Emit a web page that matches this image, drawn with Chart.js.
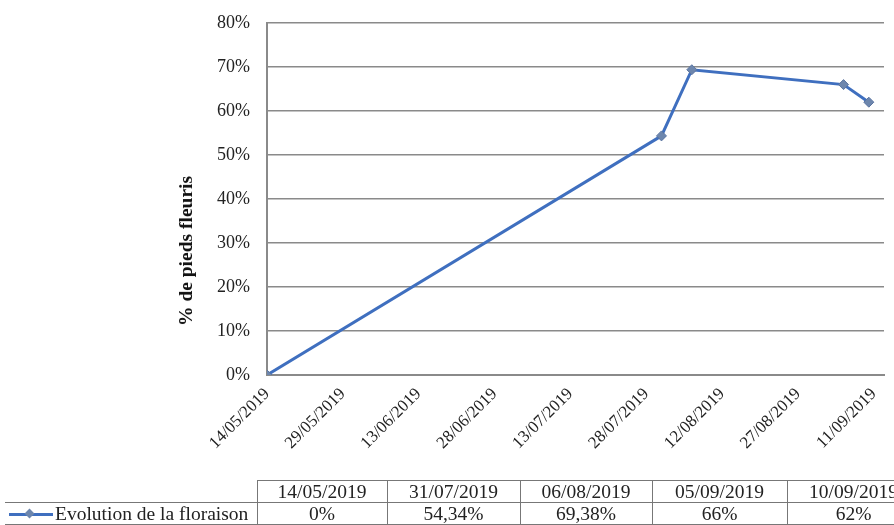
<!DOCTYPE html>
<html>
<head>
<meta charset="utf-8">
<script src="https://cdn.jsdelivr.net/npm/chart.js@4.4.1/dist/chart.umd.min.js"></script>
<style>
  html, body { margin: 0; padding: 0; background: #fff; }
  #wrap { position: relative; width: 894px; height: 525px; overflow: hidden; font-family: "Liberation Serif", "DejaVu Serif", serif; }
  canvas { position: absolute; left: 0; top: 0; }
  #ytitle { position: absolute; left: 186px; top: 251px; transform: translate(-50%, -50%) rotate(-90deg); font-weight: bold; font-size: 19.5px; white-space: nowrap; color: #111; }
  #tbl { position: absolute; left: 5px; top: 480px; width: 915px; border-collapse: collapse; font-size: 19.5px; color: #222; table-layout: fixed; }
  #tbl td { height: 21px; padding: 0; text-align: center; border: 1px solid #777; line-height: 21px; white-space: nowrap; overflow: hidden; }
  #tbl td.blank { border: none; border-bottom: 1px solid #777; }
  #tbl td.leg { text-align: left; border-left: none; }
  .mk { display: inline-block; position: relative; width: 48px; height: 12px; vertical-align: 0px; margin-right: 2px; }
  .mk::before { content: ""; position: absolute; left: 4px; right: 0px; top: 5px; height: 3px; background: #3f6fbf; }
  .mk::after { content: ""; position: absolute; left: 21px; top: 2px; width: 7px; height: 7px; background: #6d86ad; transform: rotate(45deg); }
</style>
</head>
<body>
<div id="wrap">
  <canvas id="c" width="894" height="525"></canvas>
  <div id="ytitle">% de pieds fleuris</div>
  <table id="tbl"></table>
</div>
<script>
// ---- data ----
const categories = ['14/05/2019', '31/07/2019', '06/08/2019', '05/09/2019', '10/09/2019'];
const values = [0, 54.34, 69.38, 66, 62];
const seriesName = 'Evolution de la floraison';
const tickLabels = ['14/05/2019', '29/05/2019', '13/06/2019', '28/06/2019', '13/07/2019', '28/07/2019', '12/08/2019', '27/08/2019', '11/09/2019'];
const yTicks = [0, 10, 20, 30, 40, 50, 60, 70, 80];

// ---- helpers ----
function parseDate(s) { const [d, m, y] = s.split('/').map(Number); return Date.UTC(y, m - 1, d); }
const origin = parseDate(categories[0]);
const DAY = 86400000;
const toDay = s => Math.round((parseDate(s) - origin) / DAY);
const tickDays = tickLabels.map(toDay);
const points = categories.map((c, i) => ({ x: toDay(c), y: values[i] }));
const fmtPct = v => (Number.isInteger(v) ? String(v) : v.toFixed(2).replace('.', ',')) + '%';

// ---- table ----
const tbl = document.getElementById('tbl');
const colWidths = [252, 130, 133, 132, 135, 133];
let h = '<colgroup>' + colWidths.map(w => `<col style="width:${w}px">`).join('') + '</colgroup>';
h += '<tr><td class="blank"></td>' + categories.map(c => `<td>${c}</td>`).join('') + '</tr>';
h += `<tr><td class="leg"><span class="mk"></span>${seriesName}</td>` + values.map(v => `<td>${fmtPct(v)}</td>`).join('') + '</tr>';
tbl.innerHTML = h;

// ---- chart ----
const serif = '"Liberation Serif", "DejaVu Serif", serif';
new Chart(document.getElementById('c'), {
  type: 'line',
  data: {
    datasets: [{
      label: seriesName,
      data: points,
      borderColor: '#3f6fbf',
      borderWidth: 3,
      pointStyle: 'rectRot',
      pointRadius: 5,
      pointBackgroundColor: '#6d86ad',
      pointBorderColor: '#5a74a0',
      pointBorderWidth: 1,
      tension: 0
    }]
  },
  options: {
    responsive: false,
    animation: false,
    devicePixelRatio: 1,
    layout: { padding: { top: 23, right: 10, left: 0, bottom: 0 } },
    plugins: { legend: { display: false }, tooltip: { enabled: false } },
    scales: {
      x: {
        type: 'linear',
        min: 0,
        max: 122,
        afterBuildTicks: s => { s.ticks = tickDays.map(v => ({ value: v })); },
        afterFit: s => { s.height = 150; s.paddingLeft = 0; s.paddingRight = 0; },
        grid: { display: false, drawTicks: false },
        border: { display: true, color: '#8a8a8a', width: 2 },
        ticks: {
          autoSkip: false,
          minRotation: 45,
          maxRotation: 45,
          padding: 9,
          color: '#222',
          font: { family: serif, size: 17 },
          callback: v => { const i = tickDays.indexOf(v); return i >= 0 ? tickLabels[i] : ''; }
        }
      },
      y: {
        min: 0,
        max: 80,
        afterBuildTicks: s => { s.ticks = yTicks.map(v => ({ value: v })); },
        afterFit: s => { s.width = 267; s.paddingTop = 0; s.paddingBottom = 0; },
        grid: { color: '#8a8a8a', lineWidth: 1.5, drawTicks: false },
        border: { display: true, color: '#8a8a8a', width: 2 },
        ticks: {
          padding: 17,
          color: '#222',
          font: { family: serif, size: 18 },
          callback: v => v + '%'
        }
      }
    }
  }
});
</script>
</body>
</html>
